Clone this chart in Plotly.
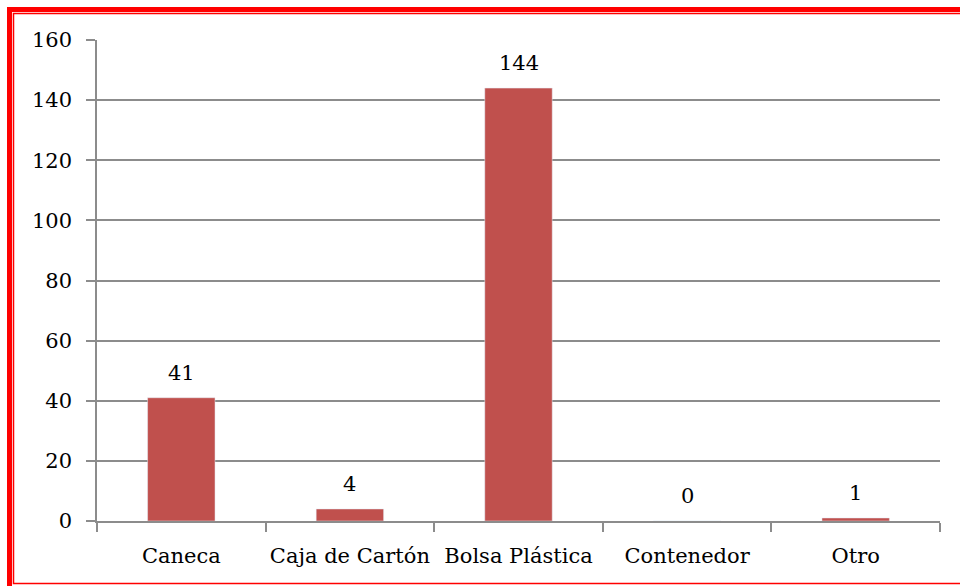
import plotly.graph_objects as go

categorias = ['Caneca', 'Caja de Cartón', 'Bolsa Plástica', 'Contenedor', 'Otro']
valores = [41, 4, 144, 0, 1]
y_ticks = [0, 20, 40, 60, 80, 100, 120, 140, 160]

W, H = 960, 586
L, R, T, B = 97, 940, 40, 521


def px_x(px):
    return (px - L) / (R - L)


def px_y(py):
    return (B - py) / (B - T)


fuente = dict(family='DejaVu Serif', size=21, color='black')
gris = '#8C8C8C'

fig = go.Figure(go.Bar(
    x=categorias,
    y=valores,
    marker_color='#C0504D',
    cliponaxis=False,
))

# etiquetas de valor sobre cada barra
for cat, val in zip(categorias, valores):
    fig.add_annotation(x=cat, y=val, text=str(val), showarrow=False,
                       yanchor='middle', yshift=25, font=fuente)

fig.update_layout(
    width=W, height=H,
    margin=dict(l=L, r=W - R, t=T, b=H - B),
    plot_bgcolor='white',
    paper_bgcolor='white',
    font=fuente,
    bargap=0.6,
    showlegend=False,
)

fig.update_yaxes(
    range=[0, 160],
    tickvals=y_ticks,
    showgrid=True, gridcolor=gris, gridwidth=1.5,
    showline=True, linecolor=gris, linewidth=1.5,
    ticks='outside', ticklen=9, tickcolor=gris, tickwidth=1.5,
    zeroline=False,
    ticklabelstandoff=10,
    automargin=False,
)
fig.update_xaxes(
    showline=True, linecolor=gris, linewidth=1.5,
    ticks='outside', ticklen=9, tickcolor=gris, tickwidth=1.5,
    tickson='boundaries',
    tickangle=0,
    showgrid=False,
    ticklabelstandoff=15,
    automargin=False,
)

# marco rojo doble alrededor del gráfico
fig.add_shape(type='rect', xref='paper', yref='paper',
              x0=px_x(9.5), x1=px_x(975), y0=px_y(9.5), y1=px_y(600),
              line=dict(color='#FF0000', width=5), layer='above')
fig.add_shape(type='rect', xref='paper', yref='paper',
              x0=px_x(13.5), x1=px_x(970), y0=px_y(13.5), y1=px_y(583.5),
              line=dict(color='#FF0000', width=1.5), layer='above')

# sin margen del body para que la figura ocupe toda la ventana
fig.write_html('out.html',
               config={'displayModeBar': False},
               post_script="document.body.style.margin='0';document.body.style.overflow='hidden';")
